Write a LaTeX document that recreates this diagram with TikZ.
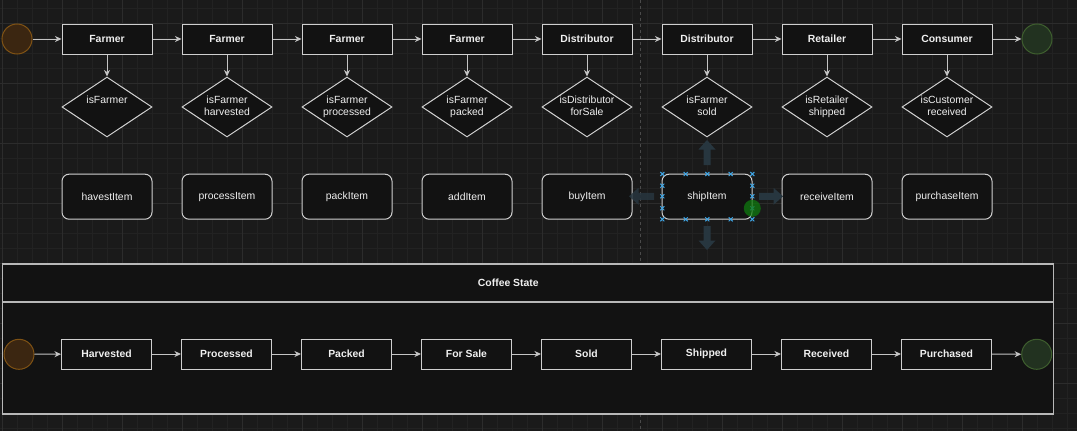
\documentclass[tikz,border=0pt]{standalone}
\usepackage{fontspec}
\setmainfont{Liberation Sans}
\usetikzlibrary{shapes.geometric,arrows.meta,calc}
\definecolor{bgc}{HTML}{1A1A1A}
\definecolor{gridminor}{HTML}{222222}
\definecolor{gridmajor}{HTML}{2C2C2C}
\definecolor{boxfill}{HTML}{121212}
\definecolor{strokec}{HTML}{CFCFCF}
\definecolor{edgec}{HTML}{C4C4C4}
\definecolor{contc}{HTML}{B8B8B8}
\definecolor{txtc}{HTML}{F0F0F0}
\definecolor{startfill}{HTML}{3B2611}
\definecolor{startdraw}{HTML}{7F5214}
\definecolor{endfill}{HTML}{223220}
\definecolor{enddraw}{HTML}{3E5E2E}
\definecolor{uiarrowc}{HTML}{27363F}
\definecolor{handlec}{HTML}{3FA6E6}
\definecolor{pagebreak}{HTML}{4A4A4A}
\definecolor{greenh}{HTML}{0E7A0E}
\begin{document}
\begin{tikzpicture}[x=1pt,y=-1pt,
  every node/.style={text=txtc, font=\fontsize{10.4}{12}\selectfont},
  statebox/.style={draw=strokec, fill=boxfill, line width=1pt, minimum width=90, minimum height=30, inner sep=0, font=\fontsize{10.4}{12}\selectfont\bfseries},
  dia/.style={diamond, draw=strokec, fill=boxfill, line width=1pt, minimum width=90, minimum height=60, inner sep=0},
  dtext/.style={anchor=north, inner sep=0, align=center},
  func/.style={draw=strokec, fill=boxfill, line width=1pt, rounded corners=7, minimum width=90, minimum height=45, inner sep=0},
  startc/.style={circle, draw=startdraw, fill=startfill, line width=1pt, minimum size=30, inner sep=0},
  endc/.style={circle, draw=enddraw, fill=endfill, line width=1pt, minimum size=30, inner sep=0},
  edge/.style={draw=edgec, line width=1pt, -{Stealth[length=6.5pt,width=6pt,inset=2pt]}},
  cont/.style={draw=contc, fill=boxfill, line width=1.2pt, minimum width=1051, minimum height=150, inner sep=0},
  hx/.pic={\draw[handlec, line width=1pt] (-2,-2)--(2,2) (-2,2)--(2,-2);}
]
\useasboundingbox (0,0) rectangle (1077,431);
\fill[bgc] (0,0) rectangle (1077,431);
% grid
\foreach \x in {2,17,...,1077} \draw[gridminor, line width=0.8pt] (\x,0) -- (\x,431);
\foreach \y in {8,23,...,431} \draw[gridminor, line width=0.8pt] (0,\y) -- (1077,\y);
\foreach \x in {2,62,...,1077} \draw[gridmajor, line width=0.9pt] (\x,0) -- (\x,431);
\foreach \y in {23,83,...,431} \draw[gridmajor, line width=0.9pt] (0,\y) -- (1077,\y);
% page break
\draw[pagebreak, line width=0.8pt, dash pattern=on 3pt off 3pt] (640,0) -- (640,431);

% container
\node[cont] (cs) at (528,339) {};
\coordinate (hy) at (0,302);
\draw[contc, line width=1.2pt] (cs.west |- hy) -- (cs.east |- hy);
\node[font=\fontsize{10.4}{12}\selectfont\bfseries] (title) at (508.3,282.7) {Coffee State};

% top row
\node[startc] (st) at (17,39) {};
\node[endc] (en) at (1037,39) {};
\foreach \lab [count=\i from 0] in {Farmer,Farmer,Farmer,Farmer,Distributor,Distributor,Retailer,Consumer}
  \node[statebox] (s\i) at ({107+120*\i},39) {\lab};
\foreach \i in {0,...,7}
  \node[dia] (d\i) at ({107+120*\i},107) {};
\node[dtext] (t0) at (107,95.7) {isFarmer};
\node[dtext] (t1) at (227,95.7) {isFarmer\\harvested};
\node[dtext] (t2) at (347,95.7) {isFarmer\\processed};
\node[dtext] (t3) at (467,95.7) {isFarmer\\packed};
\node[dtext] (t4) at (587,95.7) {isDistributor\\forSale};
\node[dtext] (t5) at (707,95.7) {isFarmer\\sold};
\node[dtext] (t6) at (827,95.7) {isRetailer\\shipped};
\node[dtext] (t7) at (947,95.7) {isCustomer\\received};
\foreach \lab [count=\i from 0] in {havestItem,processItem,packItem,addItem,buyItem,shipItem,receiveItem,purchaseItem}
  \node[func] (f\i) at ({107+120*\i},196.7) {\lab};

\draw[edge] (st) -- (s0);
\foreach \i [evaluate=\i as \j using int(\i+1)] in {0,...,6}
  \draw[edge] (s\i) -- (s\j);
\draw[edge] (s7) -- (en);
\foreach \i in {0,...,7}
  \draw[edge] (s\i) -- (d\i);

% bottom row
\node[startc] (bst) at (19,354.3) {};
\node[endc] (ben) at (1036.7,354.3) {};
\foreach \lab [count=\i from 0] in {Harvested,Processed,Packed,For Sale,Sold,Shipped,Received,Purchased}
  \node[statebox] (b\i) at ({106.5+120*\i},354) {\lab};
\draw[edge] (bst) -- (b0);
\foreach \i [evaluate=\i as \j using int(\i+1)] in {0,...,6}
  \draw[edge] (b\i) -- (b\j);
\draw[edge] (b7) -- (ben);

% editor selection decorations around shipItem
\fill[uiarrowc] (707,140) -- (715.5,149.5) -- (710.5,149.5) -- (710.5,165) -- (703.5,165) -- (703.5,149.5) -- (698.5,149.5) -- cycle;
\fill[uiarrowc] (707,250) -- (715.5,240.5) -- (710.5,240.5) -- (710.5,226) -- (703.5,226) -- (703.5,240.5) -- (698.5,240.5) -- cycle;
\fill[uiarrowc, opacity=0.85] (629,196.3) -- (638.5,187.8) -- (638.5,192.8) -- (654,192.8) -- (654,199.8) -- (638.5,199.8) -- (638.5,204.8) -- cycle;
\fill[uiarrowc] (783,196.3) -- (773.5,187.8) -- (773.5,192.8) -- (759,192.8) -- (759,199.8) -- (773.5,199.8) -- (773.5,204.8) -- cycle;
\foreach \x in {662.3,685.7,707.3,730.7,752.3} {
  \pic at (\x,174) {hx};
  \pic at (\x,219.3) {hx};
}
\foreach \y in {185.7,196.3,208.3} {
  \pic at (662.3,\y) {hx};
  \pic at (752.3,\y) {hx};
}
\fill[greenh, opacity=0.75] (752.3,208.3) circle (8.5);
\end{tikzpicture}
\end{document}
